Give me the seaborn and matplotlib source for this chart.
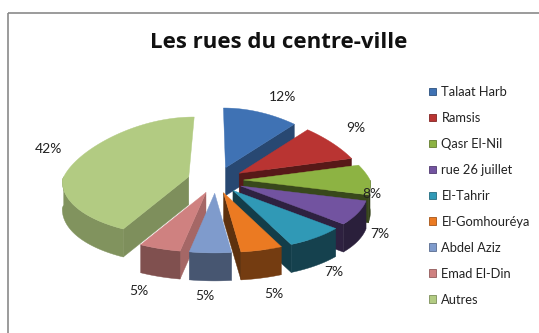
import numpy as np
import matplotlib
matplotlib.use("Agg")
import matplotlib.pyplot as plt
from matplotlib.patches import Polygon, Rectangle, Patch
from matplotlib.colors import to_rgb
import seaborn as sns

# Street shares in downtown Cairo
streets = ["Talaat Harb", "Ramsis", "Qasr El-Nil", "rue 26 juillet", "El-Tahrir",
           "El-Gomhouréya", "Abdel Aziz", "Emad El-Din", "Autres"]
shares = [12, 9, 8, 7, 7, 5, 5, 5, 42]
top_colors = ["#3f72b4", "#b93432", "#8db343", "#7253a0", "#3099b6",
              "#eb7a22", "#7f9bcc", "#cf8180", "#b2cb82"]

sns.set_theme(style="white")
plt.rcParams["font.family"] = ["Lato", "DejaVu Sans"]

W, H = 539, 333
fig = plt.figure(figsize=(W / 100, H / 100), dpi=100)
ax = fig.add_axes([0, 0, 1, 1])
ax.set_xlim(0, W)
ax.set_ylim(H, 0)
ax.axis("off")

# chart frame
ax.add_patch(Rectangle((8, 13), W - 6, H, fill=False, ec="#8a8a8a", lw=1.2))

ax.text(279, 42, "Les rues du centre-ville", ha="center", va="center",
        fontsize=16, fontweight="bold", color="#111111", family="Open Sans")

# 3D pie geometry (pixel space)
cx, cy = 215.6, 180.0
rx, ry = 126.4, 59.7
k = ry / rx
depth = 28
explode = 28
persp_back, persp_front = 0.20, 0.06


def proj(u, w, z=0.0):
    """Plane coords (u right, w away from viewer) -> screen pixels."""
    u = np.asarray(u, float)
    w = np.asarray(w, float)
    v = w / ry
    s = np.where(v > 0, 1 - persp_back * v, 1 - persp_front * v)
    return cx + u * s, cy - w + z


def shade(c, f):
    r, g, b = to_rgb(c)
    return (min(r * f, 1), min(g * f, 1), min(b * f, 1))


vals = np.array(shares, dtype=float)
fr = vals / vals.sum()
starts = 90 - 360 * np.concatenate([[0], np.cumsum(fr)[:-1]])
ends = starts - 360 * fr
mids = (starts + ends) / 2

label_nudge = [(20, 0), (11, -7), (-20, 14), (1, 1), (2, 0),
               (5, 2), (-5, -1), (-12, 1), (-9, -9)]

order = np.argsort(-np.sin(np.radians(mids)))
for i in order:
    t0, t1, tm = starts[i], ends[i], mids[i]
    ou = explode * np.cos(np.radians(tm))
    ow = explode * k * np.sin(np.radians(tm))
    th = np.radians(np.linspace(t0, t1, 100))
    us = ou + rx * np.cos(th)
    ws = ow + ry * np.sin(th)
    col = top_colors[i]
    apx, apy = proj(ou, ow)

    # radial walls (lit more when facing right)
    for ang, vis, normal in ((t0, np.cos(np.radians(t0)) < -1e-6, t0 + 90),
                             (t1, np.cos(np.radians(t1)) > 1e-6, t1 - 90)):
        if vis:
            a = np.radians(ang)
            pu, pw = ou + rx * np.cos(a), ow + ry * np.sin(a)
            px, py = proj(pu, pw)
            quad = [(apx, apy), (px, py), (px, py + depth), (apx, apy + depth)]
            nrm = (normal + 180) % 360 - 180
            f = float(np.clip(0.85 + 0.005 * nrm, 0.4, 0.85))
            fc = shade(col, f)
            ax.add_patch(Polygon(quad, closed=True, fc=fc, ec=fc, lw=0.3))
    # outer curved wall (front half only)
    front = np.sin(th) < 0
    if front.any():
        fx, fy = proj(us[front], ws[front])
        mid_front = th[front].mean()
        f = 0.55 + 0.2 * np.cos(mid_front - np.pi)
        outline = np.column_stack([np.r_[fx, fx[::-1]], np.r_[fy, fy[::-1] + depth]])
        fc = shade(col, f)
        ax.add_patch(Polygon(outline, closed=True, fc=fc, ec=fc, lw=0.3))
    # top face
    tx, ty = proj(us, ws)
    poly = np.column_stack([np.r_[apx, tx], np.r_[apy, ty]])
    ax.add_patch(Polygon(poly, closed=True, fc=col, ec=col, lw=0.3))

    # percentage label
    a = np.radians(tm)
    lx, ly = proj(ou + (rx + 22) * np.cos(a), ow + (ry + 16) * np.sin(a),
                  depth * max(0.0, -np.sin(a)))
    dx, dy = label_nudge[i]
    ax.text(lx + dx, ly + dy, f"{shares[i]}%", ha="center", va="center",
            fontsize=10, color="#222222")

# legend
handles = [Patch(facecolor=c, edgecolor=shade(c, 0.7), lw=0.6) for c in top_colors]
leg = ax.legend(handles, streets, loc="upper left",
                bbox_to_anchor=(424 / W, 1 - 81 / H), frameon=False,
                fontsize=9.3, handlelength=0.55, handleheight=0.55,
                handletextpad=0.4, labelspacing=1.08, borderaxespad=0)
for t in leg.get_texts():
    t.set_color("#222222")

fig.savefig("out.png", dpi=100)
